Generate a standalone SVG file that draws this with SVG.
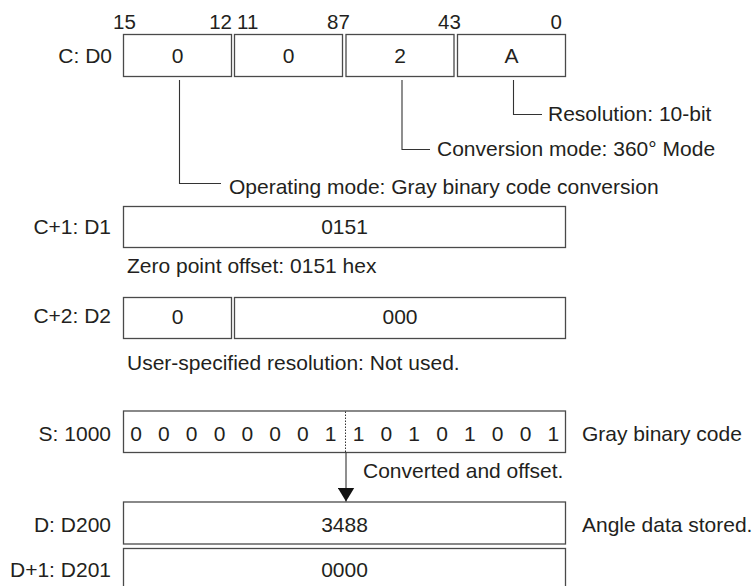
<svg xmlns="http://www.w3.org/2000/svg" width="756" height="586" viewBox="0 0 756 586">
<defs>
<style>
text{font-family:"Liberation Sans",Arial,Helvetica,sans-serif;font-size:21px;fill:#231f20}
.lbl{text-anchor:end}
.mid{text-anchor:middle}
.bit{font-size:20.5px}
.box{fill:#fff;stroke:#4a4a4a;stroke-width:1.3}
.ln{fill:none;stroke:#333;stroke-width:1.1}
.dot{fill:none;stroke:#333;stroke-width:1;stroke-dasharray:1.5 1.5}
</style>
<marker id="arr" markerWidth="15" markerHeight="17" refX="14" refY="8.5" orient="auto" markerUnits="userSpaceOnUse" viewBox="0 0 15 17">
<path d="M0,0 L14,8.5 L0,17 Z" fill="#111"/>
</marker>
</defs>
<rect width="756" height="586" fill="#fff"/>

<g id="bit-numbers">
<text class="bit" x="113" y="29">15</text>
<text class="bit" x="232" y="29" text-anchor="end">12</text>
<text class="bit" x="237" y="29">11</text>
<text class="bit" x="327" y="29">87</text>
<text class="bit" x="438" y="29">43</text>
<text class="bit" x="562" y="29" text-anchor="end">0</text>
</g>

<g id="c-d0">
<text class="lbl" x="112" y="63">C: D0</text>
<rect class="box" x="123.5" y="34.5" width="108" height="42"/>
<rect class="box" x="234.5" y="34.5" width="108" height="42"/>
<rect class="box" x="346" y="34.5" width="108" height="42"/>
<rect class="box" x="457.5" y="34.5" width="108" height="42"/>
<text class="mid" x="177.5" y="63">0</text>
<text class="mid" x="288.5" y="63">0</text>
<text class="mid" x="400" y="63">2</text>
<text class="mid" x="511.5" y="63">A</text>
</g>

<g id="annotations">
<text x="548" y="121">Resolution: 10-bit</text>
<text x="437" y="156">Conversion mode: 360° Mode</text>
<text x="229" y="194">Operating mode: Gray binary code conversion</text>
<text x="127" y="273">Zero point offset: 0151 hex</text>
<text x="127" y="370">User-specified resolution: Not used.</text>
<text x="582" y="441">Gray binary code</text>
<text x="363" y="478">Converted and offset.</text>
<text x="582" y="532">Angle data stored.</text>
</g>

<g id="c1-d1">
<text class="lbl" x="111" y="234">C+1: D1</text>
<rect class="box" x="123.5" y="206.5" width="442" height="41"/>
<text class="mid" x="344.5" y="234">0151</text>
</g>

<g id="c2-d2">
<text class="lbl" x="111" y="323">C+2: D2</text>
<rect class="box" x="123.5" y="297.5" width="108" height="41"/>
<rect class="box" x="234.5" y="297.5" width="331" height="41"/>
<text class="mid" x="177.5" y="324">0</text>
<text class="mid" x="400" y="324">000</text>
</g>

<g id="s-1000">
<text class="lbl" x="111" y="441">S: 1000</text>
<rect class="box" x="123.5" y="411" width="442" height="41.5"/>
<text class="mid" x="136 163.8 191.6 219.5 247.3 275.1 302.9 330.7 358.6 386.4 414.2 442 469.8 497.7 525.5 553.3" y="441">0000000110101001</text>
<line class="dot" x1="345.5" y1="411.5" x2="345.5" y2="452"/>
</g>

<g id="d-d200">
<text class="lbl" x="111" y="532">D: D200</text>
<rect class="box" x="123.5" y="502" width="442" height="42"/>
<text class="mid" x="344.5" y="532">3488</text>
</g>

<g id="d1-d201">
<text class="lbl" x="111" y="577">D+1: D201</text>
<rect class="box" x="123.5" y="548.5" width="442" height="45"/>
<text class="mid" x="344.5" y="577">0000</text>
</g>

<g id="connectors">
<polyline class="ln" points="513.5,80 513.5,114.5 542,114.5"/>
<polyline class="ln" points="402,80 402,149.5 430,149.5"/>
<polyline class="ln" points="179.5,80 179.5,183.5 221,183.5"/>
<line class="ln" x1="346" y1="452.5" x2="346" y2="501.5" marker-end="url(#arr)"/>
</g>
</svg>
